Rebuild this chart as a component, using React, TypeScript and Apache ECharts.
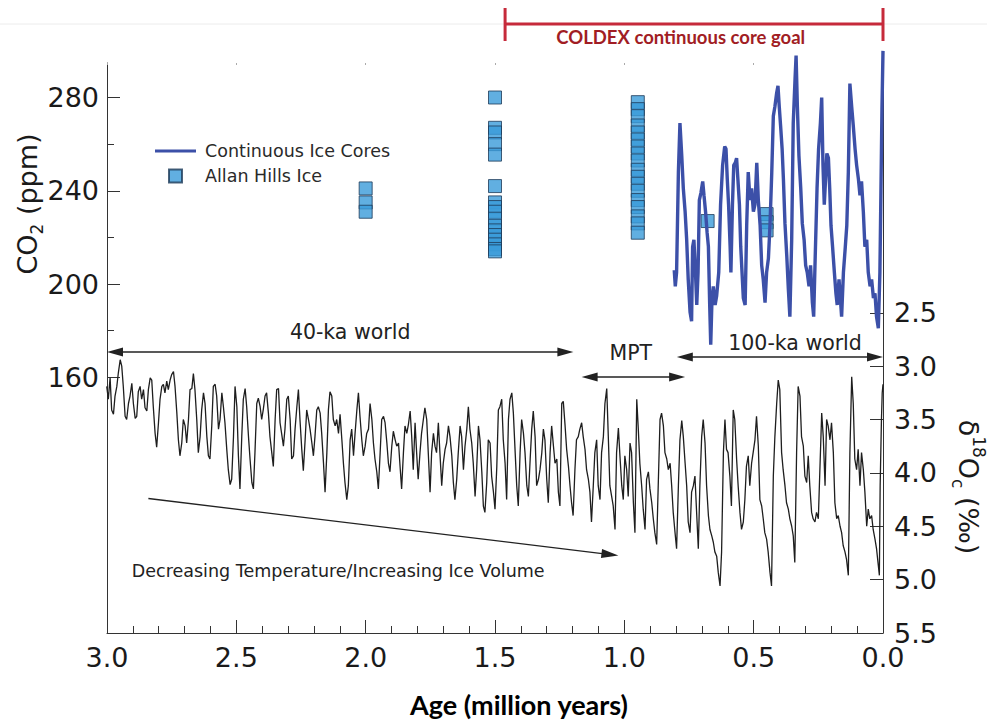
import React, { useEffect, useRef } from "react";
import * as echarts from "echarts";

// ---------------- data ----------------
// Benthic δ18O stack (‰), age in million years
const d18oAges = [
  3.001, 2.995, 2.988, 2.982, 2.975, 2.969, 2.962, 2.956, 2.949, 2.943,
  2.937, 2.930, 2.924, 2.917, 2.911, 2.904, 2.898, 2.891, 2.885, 2.879,
  2.872, 2.866, 2.859, 2.853, 2.846, 2.840, 2.833, 2.827, 2.821, 2.814,
  2.808, 2.801, 2.795, 2.788, 2.782, 2.776, 2.769, 2.763, 2.756, 2.750,
  2.743, 2.737, 2.730, 2.724, 2.718, 2.711, 2.705, 2.698, 2.692, 2.685,
  2.679, 2.672, 2.666, 2.660, 2.653, 2.647, 2.640, 2.634, 2.627, 2.621,
  2.614, 2.608, 2.602, 2.595, 2.589, 2.582, 2.576, 2.569, 2.563, 2.556,
  2.550, 2.544, 2.537, 2.531, 2.524, 2.518, 2.511, 2.505, 2.498, 2.492,
  2.486, 2.479, 2.473, 2.466, 2.460, 2.453, 2.447, 2.440, 2.434, 2.428,
  2.421, 2.415,
  2.408,
  2.402, 2.396, 2.389, 2.383, 2.376, 2.370, 2.363, 2.357, 2.350, 2.344,
  2.337, 2.331, 2.325, 2.318, 2.312, 2.305, 2.299, 2.292, 2.286, 2.279,
  2.273, 2.266, 2.260, 2.254, 2.247, 2.241, 2.234, 2.228, 2.221, 2.215,
  2.208, 2.202, 2.196, 2.189, 2.183, 2.176, 2.170, 2.163, 2.157, 2.150,
  2.144, 2.138, 2.131, 2.125, 2.118, 2.112, 2.105, 2.099, 2.092, 2.086,
  2.080, 2.073, 2.067, 2.060, 2.054, 2.047, 2.041, 2.034, 2.028, 2.022,
  2.015, 2.009, 2.002, 1.996, 1.989, 1.983, 1.976, 1.970, 1.964, 1.957,
  1.951, 1.944, 1.938, 1.931, 1.925, 1.918, 1.912, 1.906, 1.899, 1.893,
  1.886, 1.880, 1.873, 1.867, 1.861, 1.854, 1.848, 1.841, 1.835, 1.828,
  1.822, 1.816,
  1.809,
  1.803, 1.797, 1.790, 1.784, 1.777, 1.771, 1.764, 1.758, 1.751, 1.745,
  1.738, 1.732, 1.726, 1.719, 1.713, 1.706, 1.700, 1.693, 1.687, 1.680,
  1.674, 1.667, 1.661, 1.655, 1.648, 1.642, 1.635, 1.629, 1.622, 1.616,
  1.609, 1.603, 1.597, 1.590, 1.584, 1.577, 1.571, 1.564, 1.558, 1.551,
  1.545, 1.539, 1.532, 1.526, 1.519, 1.513, 1.506, 1.500, 1.493, 1.487,
  1.481, 1.474, 1.468, 1.461, 1.455, 1.448, 1.442, 1.435, 1.429, 1.422,
  1.416, 1.410, 1.403, 1.397, 1.390, 1.384, 1.377, 1.371, 1.364, 1.358,
  1.352, 1.345, 1.339, 1.332, 1.326, 1.319, 1.313, 1.307, 1.300, 1.294,
  1.287, 1.281, 1.274, 1.268, 1.261, 1.255, 1.249, 1.242, 1.236, 1.229,
  1.223, 1.216,
  1.210,
  1.204, 1.198, 1.191, 1.185, 1.178, 1.172, 1.165, 1.159, 1.152, 1.146,
  1.139, 1.133, 1.127, 1.120, 1.114, 1.107, 1.101, 1.094, 1.088, 1.081,
  1.075, 1.068, 1.062, 1.056, 1.049, 1.043, 1.036, 1.030, 1.023, 1.017,
  1.010, 1.004, 0.998, 0.991, 0.985, 0.978, 0.972, 0.965, 0.959, 0.952,
  0.946, 0.940, 0.933, 0.927, 0.920, 0.914, 0.907, 0.901, 0.894, 0.888,
  0.882, 0.875, 0.869, 0.862, 0.856, 0.849, 0.843, 0.836, 0.830, 0.823,
  0.817, 0.811, 0.804, 0.798, 0.791, 0.785, 0.778, 0.772, 0.765, 0.759,
  0.753, 0.746, 0.740, 0.733, 0.727, 0.720, 0.714, 0.708, 0.701, 0.695,
  0.688, 0.682, 0.675, 0.669, 0.662, 0.656, 0.650, 0.643, 0.637, 0.630,
  0.624, 0.617,
  0.611,
  0.605, 0.599, 0.592, 0.586, 0.579, 0.573, 0.566, 0.560, 0.553, 0.547,
  0.540, 0.534, 0.528, 0.521, 0.515, 0.508, 0.502, 0.495, 0.489, 0.482,
  0.476, 0.469, 0.463, 0.457, 0.450, 0.444, 0.437, 0.431, 0.424, 0.418,
  0.411, 0.405, 0.399, 0.392, 0.386, 0.379, 0.373, 0.366, 0.360, 0.353,
  0.347, 0.341, 0.334, 0.328, 0.321, 0.315, 0.308, 0.302, 0.295, 0.289,
  0.283, 0.276, 0.270, 0.263, 0.257, 0.250, 0.244, 0.237, 0.231, 0.224,
  0.218, 0.212, 0.205, 0.199, 0.192, 0.186, 0.179, 0.173, 0.166, 0.160,
  0.154, 0.147, 0.141, 0.134, 0.128, 0.121, 0.115, 0.109, 0.102, 0.096,
  0.089, 0.083, 0.076, 0.070, 0.063, 0.057, 0.051, 0.044, 0.038, 0.031,
  0.025, 0.018, 0.014, 0.011, 0.006, 0.003, 0.0,
];
const d18oValues = [
  3.19, 3.31, 3.11, 3.41, 3.45, 3.28, 3.19, 3.06, 2.94, 3.00,
  3.19, 3.47, 3.50, 3.35, 3.28, 3.16, 3.35, 3.49, 3.47, 3.24,
  3.19, 3.31, 3.22, 3.39, 3.42, 3.22, 3.11, 3.13, 3.38, 3.63,
  3.76, 3.53, 3.31, 3.19, 3.17, 3.25, 3.14, 3.22, 3.13, 3.08,
  3.05, 3.19, 3.44, 3.69, 3.84, 3.72, 3.50, 3.56, 3.72, 3.50,
  3.22, 3.21, 3.07, 3.22, 3.50, 3.81, 3.66, 3.41, 3.25, 3.35,
  3.66, 3.84, 3.87, 3.56, 3.19, 3.17, 3.28, 3.59, 3.50, 3.25,
  3.38, 3.53, 3.78, 3.97, 4.11, 4.06, 3.66, 3.19, 3.38, 3.84,
  4.15, 3.66, 3.31, 3.21, 3.38, 3.66, 3.87, 4.09, 4.15, 3.81,
  3.35, 3.30,
  3.38,
  3.50, 3.41, 3.28, 3.25, 3.44, 3.66, 3.81, 3.94, 3.50, 3.22,
  3.21, 3.53, 3.63, 3.75, 3.59, 3.31, 3.28, 3.50, 3.87, 3.84,
  3.59, 3.38, 3.22, 3.50, 3.78, 3.98, 3.69, 3.41, 3.50, 3.59,
  3.72, 3.84, 3.66, 3.41, 3.38, 3.44, 3.63, 3.91, 4.18, 3.81,
  3.41, 3.24, 3.28, 3.50, 3.56, 3.50, 3.63, 3.45, 3.69, 3.91,
  4.09, 4.25, 4.12, 3.69, 3.59, 3.84, 3.63, 3.41, 3.25, 3.47,
  3.69, 3.84, 3.75, 3.63, 3.59, 3.35, 3.50, 3.72, 3.87, 3.99,
  4.15, 3.81, 3.50, 3.47, 3.53, 3.72, 3.91, 3.99, 3.75, 3.61,
  3.69, 3.75, 3.72, 3.94, 4.15, 3.81, 3.56, 3.63, 3.55, 3.42,
  3.66, 3.97,
  3.53,
  3.81, 4.06, 3.81, 3.63, 3.50, 3.39, 3.50, 3.81, 4.18, 3.81,
  3.63, 3.75, 3.81, 3.53, 3.81, 4.12, 3.91, 3.78, 3.72, 3.56,
  3.66, 3.84, 4.09, 4.25, 4.06, 3.81, 3.56, 3.66, 3.97, 3.75,
  3.59, 3.38, 3.59, 3.72, 3.91, 4.22, 3.97, 3.56, 3.69, 3.99,
  4.31, 4.37, 4.09, 3.69, 3.72, 4.03, 4.18, 4.34, 3.94, 3.41,
  3.38, 3.31, 3.69, 3.91, 4.25, 3.50, 3.31, 3.25, 3.44, 3.81,
  4.12, 4.31, 3.81, 3.50, 3.63, 3.81, 4.12, 4.22, 3.87, 3.59,
  3.42, 3.66, 4.12, 4.06, 3.97, 3.81, 3.59, 3.69, 4.06, 4.28,
  3.81, 3.56, 3.75, 3.91, 3.87, 4.18, 4.31, 3.35, 3.33, 3.56,
  3.78, 3.94,
  4.12,
  4.28, 4.40, 3.97, 3.69, 3.66, 3.59, 3.53, 3.66, 3.78, 3.97,
  4.06, 4.18, 4.46, 4.12, 3.81, 3.69, 4.12, 4.25, 3.81, 3.66,
  3.35, 3.21, 3.66, 4.12, 4.22, 4.31, 4.53, 3.81, 3.58, 3.84,
  4.12, 4.25, 3.84, 3.97, 4.22, 3.72, 3.81, 4.28, 4.56, 3.31,
  3.59, 3.91, 4.12, 4.34, 4.53, 4.06, 3.99, 4.15, 4.28, 4.43,
  4.56, 4.67, 4.12, 3.50, 3.44, 3.56, 3.81, 3.87, 3.97, 3.91,
  4.12, 4.37, 4.56, 4.71, 4.12, 3.69, 3.51, 3.66, 3.91, 4.12,
  4.46, 4.56, 4.18, 4.12, 4.03, 4.40, 4.71, 4.12, 3.66, 3.50,
  3.72, 4.12, 4.40, 4.53, 4.59, 4.65, 4.74, 4.78, 4.93, 5.06,
  4.74, 3.81,
  3.50,
  3.78, 3.81, 4.03, 4.31, 3.41, 3.50, 3.87, 4.12, 4.37, 4.53,
  4.46, 4.25, 3.94, 3.84, 4.12, 3.91, 3.81, 3.69, 3.47, 3.75,
  4.25, 4.31, 4.43, 4.56, 4.62, 4.74, 4.93, 5.06, 4.03, 3.66,
  3.35, 3.13, 3.22, 3.81, 3.97, 4.12, 4.28, 4.34, 4.43, 4.50,
  4.59, 4.84, 3.81, 3.19, 3.28, 3.66, 3.75, 4.03, 4.09, 3.84,
  4.12, 4.37, 4.43, 4.46, 4.37, 4.43, 3.97, 3.44, 3.66, 4.12,
  3.50, 3.56, 3.69, 3.53, 3.81, 4.28, 4.43, 4.40, 4.50, 4.56,
  4.68, 4.74, 4.81, 4.96, 3.81, 3.10, 3.35, 3.87, 3.97, 3.78,
  4.12, 3.81, 3.97, 4.18, 4.50, 4.34, 4.43, 4.40, 4.53, 4.62,
  4.71, 4.87, 4.96, 4.12, 3.50, 3.25, 3.17,
];

// Continuous ice-core CO2 (ppm)
const co2Ages = [
  0.807, 0.803, 0.798, 0.791, 0.785, 0.778, 0.772, 0.765, 0.759, 0.753,
  0.746, 0.740, 0.736, 0.731, 0.725, 0.720, 0.715, 0.710, 0.704, 0.697,
  0.692, 0.686, 0.680, 0.675, 0.670, 0.666, 0.661, 0.656, 0.649, 0.643,
  0.635, 0.628, 0.620, 0.612, 0.607, 0.602, 0.597, 0.591, 0.588, 0.582,
  0.577, 0.571, 0.566, 0.561, 0.555, 0.550, 0.545, 0.540, 0.533, 0.527,
  0.521, 0.514, 0.508, 0.501, 0.495, 0.488, 0.482, 0.475, 0.469, 0.463,
  0.456, 0.450, 0.443, 0.437, 0.430, 0.424, 0.418, 0.411, 0.406, 0.401,
  0.396, 0.390, 0.385, 0.379, 0.372, 0.366, 0.360, 0.353, 0.347, 0.340,
  0.336, 0.331, 0.325, 0.318, 0.312, 0.305, 0.299, 0.293, 0.286, 0.280,
  0.273, 0.268, 0.262, 0.255, 0.249, 0.242, 0.237, 0.232, 0.227, 0.222,
  0.217, 0.211, 0.206, 0.201, 0.195, 0.188, 0.182, 0.177, 0.170, 0.165,
  0.160, 0.153, 0.147, 0.140, 0.134, 0.128, 0.121, 0.115, 0.108, 0.102,
  0.095, 0.089, 0.083, 0.076, 0.070, 0.063, 0.057, 0.050, 0.044, 0.037,
  0.031, 0.025, 0.018, 0.012, 0.008, 0.004, 0.0,
];
const co2Values = [
  206, 199, 205, 248, 269, 255, 241, 231, 219, 202,
  188, 184, 216, 219, 205, 191, 205, 236, 239, 244,
  238, 231, 222, 216, 191, 174, 194, 199, 191, 195,
  205, 234, 251, 259, 258, 245, 234, 216, 205, 234,
  251, 252, 254, 245, 234, 216, 205, 194, 191, 225,
  248, 236, 241, 231, 234, 252, 236, 225, 208, 202,
  192, 205, 211, 225, 248, 272, 276, 282, 285, 276,
  268, 258, 245, 226, 212, 198, 186, 219, 269, 288,
  298, 276, 255, 241, 226, 219, 208, 205, 199, 208,
  192, 186, 212, 241, 258, 269, 280, 251, 234, 245,
  256, 254, 241, 225, 216, 205, 196, 191, 202, 194,
  186, 205, 214, 225, 248, 286, 276, 268, 258, 251,
  245, 238, 244, 231, 216, 219, 205, 199, 202, 194,
  196, 186, 181, 205, 240, 275, 300,
];

// Allan Hills blue ice CO2 (ppm)
const allanAges = [
  2.0, 2.0, 2.0,
  1.5, 1.5, 1.5, 1.5, 1.5, 1.5, 1.5, 1.5, 1.5, 1.5, 1.5, 1.5, 1.5, 1.5, 1.5, 1.5, 1.5,
  0.948, 0.948, 0.948, 0.948, 0.948, 0.948, 0.948, 0.948, 0.948, 0.948, 0.948, 0.948,
  0.948, 0.948, 0.948, 0.948, 0.948, 0.948,
  0.678,
  0.45, 0.45, 0.45,
];
const allanValues = [
  241, 235, 231,
  280, 267, 265, 260, 255.5, 242, 235, 233, 231, 228, 225, 223, 221, 219, 217, 215, 214,
  278, 275, 272, 268, 265, 262, 259, 256, 253, 249, 246, 243, 240, 236, 233, 229, 226, 222,
  227,
  230, 226.5, 223,
];

// Axis ticks
const co2Ticks = [160, 200, 240, 280];
const co2MinorTicks = [180, 220, 260];
const d18oTicks = [2.5, 3.0, 3.5, 4.0, 4.5, 5.0, 5.5];

// Annotations (ages in Ma)
const regimeNames = ["40-ka world", "MPT", "100-ka world"];
const regimeFrom = [3.0, 1.165, 0.797];
const regimeTo = [1.197, 0.765, 0.0];
const regimeLabelAge = [2.06, 0.975, 0.34];
const trendStart = [2.84, 4.24];
const trendEnd = [1.023, 4.775];
const coldexFrom = 1.461;
const coldexTo = 0.0;
const coldexLabelAge = 0.782;

// ---------------- chart ----------------
const FONT = '"DejaVu Sans", "Liberation Sans", sans-serif';
const INK = "#222";
const BLUE = "#3c50a8";

export default function App() {
  const ref = useRef<HTMLDivElement>(null);

  useEffect(() => {
    const chart = echarts.init(ref.current!, null, { renderer: "svg" });

    const d18oData = d18oAges.map((a, i) => [a, d18oValues[i]]);
    const co2Data = co2Ages.map((a, i) => [a, co2Values[i]]);
    const allanData = allanAges.map((a, i) => [a, allanValues[i]]);

    chart.setOption({
      animation: false,
      backgroundColor: "#ffffff",
      grid: { left: 107, right: 104, top: 63, bottom: 87, containLabel: false },
      legend: {
        show: true,
        orient: "vertical",
        left: 155,
        top: 142,
        padding: 0,
        itemWidth: 41,
        itemHeight: 13,
        itemGap: 7,
        selectedMode: false,
        data: [
          { name: "Continuous Ice Cores", icon: "path://M0 0H41V3.2H0Z" },
          { name: "Allan Hills Ice", icon: "path://M0 0H10V10H0Z" },
        ],
        textStyle: { fontFamily: FONT, fontSize: 17.5, color: "#2a2a2a", padding: [0, 0, 0, 4] },
      },
      xAxis: [
        {
          type: "value",
          min: 0,
          max: 3,
          interval: 0.5,
          inverse: true,
          position: "bottom",
          axisLine: { show: true, onZero: false, lineStyle: { color: "#333", width: 1 } },
          axisTick: { show: true, inside: true, length: 13, lineStyle: { color: "#333" } },
          minorTick: { show: true, splitNumber: 5, length: 7, lineStyle: { color: "#333" } },
          splitLine: { show: false },
          axisLabel: {
            fontFamily: FONT,
            fontSize: 27,
            color: "#1a1a1a",
            margin: 11,
            formatter: (v: number) => v.toFixed(1),
          },
          name: "Age (million years)",
          nameLocation: "middle",
          nameGap: 58,
          nameTextStyle: {
            fontFamily: "Lato, sans-serif",
            fontWeight: "bold",
            fontSize: 27,
            color: "#000",
            padding: [0, 0, 0, 48],
          },
        },
        {
          type: "value",
          min: 0,
          max: 3,
          interval: 0.5,
          inverse: true,
          position: "top",
          axisLine: { show: false, onZero: false },
          axisTick: { show: true, inside: true, length: 2, lineStyle: { color: "#aaa" } },
          axisLabel: { show: false },
          splitLine: { show: false },
        },
      ],
      yAxis: [
        {
          type: "value",
          position: "left",
          min: 50.3,
          max: 294.8,
          axisLine: { show: true, onZero: false, lineStyle: { color: "#333", width: 1 } },
          axisTick: { show: true, inside: true, length: 13, customValues: co2Ticks, lineStyle: { color: "#333" } },
          axisLabel: { show: true, customValues: co2Ticks, fontFamily: FONT, fontSize: 27, color: "#1a1a1a", margin: 8 },
          splitLine: { show: false },
        },
        {
          type: "value",
          position: "right",
          inverse: true,
          min: 0.16,
          max: 5.5,
          axisLine: { show: true, onZero: false, lineStyle: { color: "#333", width: 1 } },
          axisTick: { show: true, inside: true, length: 13, customValues: d18oTicks, lineStyle: { color: "#333" } },
          axisLabel: {
            show: true,
            customValues: d18oTicks,
            fontFamily: FONT,
            fontSize: 27,
            color: "#1a1a1a",
            margin: 11,
            formatter: (v: number) => v.toFixed(1),
          },
          splitLine: { show: false },
        },
        {
          type: "value",
          position: "left",
          min: 50.3,
          max: 294.8,
          axisLine: { show: false, onZero: false },
          axisTick: { show: true, inside: true, length: 7, customValues: co2MinorTicks, lineStyle: { color: "#333" } },
          axisLabel: { show: false },
          splitLine: { show: false },
        },
      ],
      series: [
        {
          name: "δ18O",
          type: "line",
          xAxisIndex: 0,
          yAxisIndex: 1,
          data: d18oData,
          symbol: "none",
          lineStyle: { color: "#1e1e1e", width: 1.3 },
          z: 1,
        },
        {
          name: "Allan Hills Ice",
          type: "scatter",
          xAxisIndex: 0,
          yAxisIndex: 0,
          data: allanData,
          symbol: "rect",
          symbolSize: 13,
          itemStyle: { color: "#3a9bd9", borderColor: "#1d3a58", borderWidth: 1 },
          z: 2,
        },
        {
          name: "Continuous Ice Cores",
          type: "line",
          xAxisIndex: 0,
          yAxisIndex: 0,
          data: co2Data,
          symbol: "none",
          clip: false,
          lineStyle: { color: BLUE, width: 3.4 },
          itemStyle: { color: BLUE },
          z: 3,
        },
      ],
    });

    // ---- annotations placed through the chart's own scales ----
    const px = (age: number) => chart.convertToPixel({ xAxisIndex: 0 }, age) as number;
    const pt = (p: number[]) => chart.convertToPixel({ seriesIndex: 0 }, p) as number[];

    const txt = (x: number, y: number, text: string, size: number, extra: any = {}) => ({
      type: "text",
      x,
      y,
      z: 20,
      style: {
        text,
        fill: INK,
        fontFamily: FONT,
        fontSize: size,
        align: "center",
        verticalAlign: "middle",
        textAlign: "center",
        textVerticalAlign: "middle",
        ...extra,
      },
    });

    const head = (tipX: number, tipY: number, dx: number, dy: number, len = 16, hw = 4.5) => {
      const bx = tipX - dx * len;
      const by = tipY - dy * len;
      return {
        type: "polygon",
        z: 20,
        shape: {
          points: [
            [tipX, tipY],
            [bx - dy * hw, by + dx * hw],
            [bx + dy * hw, by - dx * hw],
          ],
        },
        style: { fill: INK },
      };
    };

    const arrowY = [352, 377, 357];
    const labelY = [332, 353, 343];
    const g: any[] = [];

    // faint page rule behind the bracket
    g.push({ type: "line", z: 1, shape: { x1: 0, y1: 24, x2: 987, y2: 24 }, style: { stroke: "#ececec", lineWidth: 1 } });

    regimeNames.forEach((name, i) => {
      const x1 = px(regimeFrom[i]);
      const x2 = px(regimeTo[i]);
      const y = arrowY[i];
      g.push({ type: "line", z: 20, shape: { x1: x1 + 6, y1: y, x2: x2 - 6, y2: y }, style: { stroke: INK, lineWidth: 1.3 } });
      g.push(head(x1, y, -1, 0));
      g.push(head(x2, y, 1, 0));
      g.push(txt(px(regimeLabelAge[i]), labelY[i], name, 20.5));
    });

    // trend arrow
    const s = pt(trendStart);
    const e = pt(trendEnd);
    const L = Math.hypot(e[0] - s[0], e[1] - s[1]);
    const ux = (e[0] - s[0]) / L;
    const uy = (e[1] - s[1]) / L;
    g.push({ type: "line", z: 20, shape: { x1: s[0], y1: s[1], x2: e[0] - ux * 8, y2: e[1] - uy * 8 }, style: { stroke: INK, lineWidth: 1.3 } });
    g.push(head(e[0], e[1], ux, uy, 17, 4.5));
    g.push(txt(px(2.904), 571, "Decreasing Temperature/Increasing Ice Volume", 17.5, { align: "left", textAlign: "left" }));

    // COLDEX bracket
    const cx1 = px(coldexFrom);
    const cx2 = px(coldexTo);
    const RED = "#c62a3b";
    g.push({ type: "line", z: 21, shape: { x1: cx1, y1: 24, x2: cx2, y2: 24 }, style: { stroke: RED, lineWidth: 3 } });
    g.push({ type: "line", z: 21, shape: { x1: cx1, y1: 8, x2: cx1, y2: 41 }, style: { stroke: RED, lineWidth: 3 } });
    g.push({ type: "line", z: 21, shape: { x1: cx2, y1: 8, x2: cx2, y2: 41 }, style: { stroke: RED, lineWidth: 3 } });
    g.push(
      txt(px(coldexLabelAge), 37, "COLDEX continuous core goal", 18.5, {
        fill: "#a11d24",
        fontFamily: "Lato, sans-serif",
        fontWeight: "bold",
      })
    );

    // axis titles
    g.push({
      type: "text",
      x: 27,
      y: 204,
      rotation: Math.PI / 2,
      z: 20,
      style: {
        text: "{m|CO}{s|2}{m| (ppm)}",
        align: "center",
        verticalAlign: "middle",
        textAlign: "center",
        textVerticalAlign: "middle",
        rich: {
          m: { fontSize: 27, fontFamily: FONT, fill: "#1a1a1a", lineHeight: 36 },
          s: { fontSize: 17, fontFamily: FONT, fill: "#1a1a1a", lineHeight: 36, verticalAlign: "bottom" },
        },
      },
    });
    g.push({
      type: "text",
      x: 968,
      y: 487,
      rotation: -Math.PI / 2,
      z: 20,
      style: {
        text: "{m|δ}{p|18}{m|O}{b|c}{m| (‰)}",
        align: "center",
        verticalAlign: "middle",
        textAlign: "center",
        textVerticalAlign: "middle",
        rich: {
          m: { fontSize: 27, fontFamily: FONT, fill: "#1a1a1a", lineHeight: 38 },
          p: { fontSize: 17, fontFamily: FONT, fill: "#1a1a1a", lineHeight: 38, verticalAlign: "top" },
          b: { fontSize: 17, fontFamily: FONT, fill: "#1a1a1a", lineHeight: 38, verticalAlign: "bottom" },
        },
      },
    });

    chart.setOption({ graphic: g });

    return () => {
      chart.dispose();
    };
  }, []);

  return (
    <div
      ref={ref}
      style={{ position: "absolute", left: 0, top: 0, width: 987, height: 723, background: "#fff" }}
    />
  );
}
